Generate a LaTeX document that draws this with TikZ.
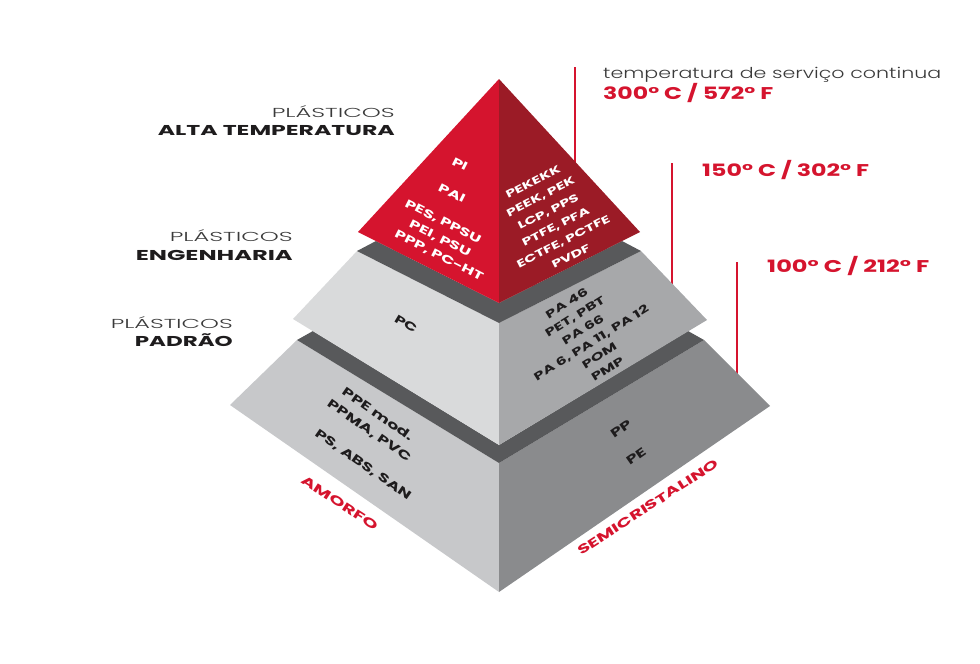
\documentclass[tikz,border=0pt]{standalone}
\usepackage{fontspec}
\usepackage{graphicx}
\setmainfont{Poppins}
\newfontfamily\eu[FakeStretch=1.5]{Poppins}
\newfontfamily\eul[FakeStretch=1.4]{Poppins Light}
\definecolor{pred}{HTML}{D5142E}
\definecolor{predd}{HTML}{9B1B26}
\definecolor{band}{HTML}{58595B}
\definecolor{gA}{HTML}{D9DADB}
\definecolor{gB}{HTML}{A7A8AA}
\definecolor{gC}{HTML}{C7C8CA}
\definecolor{gD}{HTML}{8A8B8D}
\definecolor{txtdark}{HTML}{1E1C1D}
\definecolor{txtlight}{HTML}{3A3A3A}
\newsavebox\fitbox
\newcommand\fitx[2]{\sbox\fitbox{#2}\pgfmathsetmacro\fxs{#1/\the\wd\fitbox}\scalebox{\fxs}[1]{\usebox\fitbox}}
\tikzset{
  lbl/.style={font=\eu\bfseries\fontsize{11.5}{13}\selectfont, inner sep=0pt, anchor=center},
  wl/.style={lbl, text=white},
  dl/.style={lbl, text=txtdark},
  rl/.style={lbl, text=pred, font=\eu\bfseries\fontsize{12.5}{14}\selectfont},
  ttlight/.style={inner sep=0pt, text=txtlight, font=\eul\fontsize{13}{15}\selectfont},
  ttbold/.style={inner sep=0pt, text=txtdark, font=\eu\bfseries\fontsize{14.3}{16}\selectfont},
  tempred/.style={inner sep=0pt, text=pred, font=\eu\bfseries\fontsize{17}{19}\selectfont, anchor=base west},
  templine/.style={draw=pred, line width=1.2pt},
}
\begin{document}
\begin{tikzpicture}[x=1pt, y=-1pt]
\useasboundingbox (0,0) rectangle (980,664);
% coordinates
\coordinate (apex) at (499,79);
\coordinate (rL) at (358,232);
\coordinate (rF) at (499,303);
\coordinate (rR) at (640,232);
\coordinate (t2L) at (357,251);
\coordinate (t2F) at (499,323);
\coordinate (t2R) at (641,251);
\coordinate (t2LL) at (293,319);
\coordinate (t2B) at (499,445);
\coordinate (t2RR) at (707,320);
\coordinate (t3L) at (297,340);
\coordinate (t3F) at (499,463);
\coordinate (t3R) at (704,340);
\coordinate (t3LL) at (230,405);
\coordinate (t3B) at (499,592);
\coordinate (t3RR) at (770,406);
% temperature lines
\coordinate (v1a) at (575,67);  \coordinate (v1b) at (575,166);
\coordinate (v2a) at (672,163); \coordinate (v2b) at (672,290);
\coordinate (v3a) at (737,262); \coordinate (v3b) at (737,378);
\draw[templine] (v1a) -- (v1b);
\draw[templine] (v2a) -- (v2b);
\draw[templine] (v3a) -- (v3b);
% tier 3
\fill[gC] (t3L) -- (t3LL) -- (t3B) -- (t3F) -- cycle;
\fill[gD] (t3F) -- (t3B) -- (t3RR) -- (t3R) -- cycle;
\fill[band] (t3L) -- (313,331) -- (t2B) -- (688,331) -- (t3R) -- (t3F) -- cycle;
% tier 2
\fill[gA] (t2L) -- (t2LL) -- (t2B) -- (t2F) -- cycle;
\fill[gB] (t2F) -- (t2B) -- (t2RR) -- (t2R) -- cycle;
\fill[band] (t2L) -- (376,241) -- (rF) -- (622,241) -- (t2R) -- (t2F) -- cycle;
% top
\fill[pred] (apex) -- (rL) -- (rF) -- cycle;
\fill[predd] (apex) -- (rF) -- (rR) -- cycle;
% titles
\node[ttlight, anchor=base east] (p1) at (395,117.3) {\fitx{123}{PLÁSTICOS}};
\node[ttbold, anchor=base east] (a1) at (395,135) {\fitx{237}{ALTA TEMPERATURA}};
\node[ttlight, anchor=base east] (p2) at (293,241.7) {\fitx{123}{PLÁSTICOS}};
\node[ttbold, anchor=base east] (e2) at (293,260) {\fitx{157}{ENGENHARIA}};
\node[ttlight, anchor=base east] (p3) at (233,328.3) {\fitx{122}{PLÁSTICOS}};
\node[ttbold, anchor=base east] (d3) at (233,346.7) {\fitx{98}{PADRÃO}};
% temperatures
\node[inner sep=0pt, text=txtlight, font=\eul\fontsize{15}{17}\selectfont, anchor=base west] (tt) at (603,78.3) {\fitx{338}{temperatura de serviço continua}};
\node[tempred] (t300) at (603,99.3) {\fitx{170}{300° C / 572° F}};
\node[tempred] (t150) at (702,176) {\fitx{167}{150° C / 302° F}};
\node[tempred] (t100) at (767,272.7) {\fitx{162}{100° C / 212° F}};
% red left face
\node[wl, rotate=-27] (pi) at (460,164) {PI};
\node[wl, rotate=-27] (pai) at (452,193) {PAI};
\node[wl, rotate=-27] (pes) at (443,222) {PES, PPSU};
\node[wl, rotate=-27] (pei) at (440,239) {PEI, PSU};
\node[wl, rotate=-27] (ppp) at (439,256) {PPP, PC-HT};
% red right face
\node[wl, rotate=27, align=center, font=\eu\bfseries\fontsize{10.5}{16.7}\selectfont] (redright) at (552,219)
  {PEKEKK\\PEEK, PEK\\LCP, PPS\\PTFE, PFA\\ECTFE, PCTFE\\PVDF};
% tier 2
\node[dl, rotate=-31] (pc) at (406,324) {PC};
\node[dl, rotate=32, align=center, font=\eu\bfseries\fontsize{11}{15.4}\selectfont] (tier2right) at (587,336)
  {PA 46\\PET, PBT\\PA 66\\PA 6, PA 11, PA 12\\POM\\PMP};
% tier 3
\node[dl, rotate=-35, font=\eu\bfseries\fontsize{12}{14}\selectfont] (ppe) at (378,414) {PPE mod.};
\node[dl, rotate=-35, font=\eu\bfseries\fontsize{12}{14}\selectfont] (ppma) at (369,431) {PPMA, PVC};
\node[dl, rotate=-35, font=\eu\bfseries\fontsize{12}{14}\selectfont] (ps) at (363,465) {PS, ABS, SAN};
\node[dl, rotate=35, font=\eu\bfseries\fontsize{12}{14}\selectfont] (pp) at (621,429) {PP};
\node[dl, rotate=35, font=\eu\bfseries\fontsize{12}{14}\selectfont] (pe) at (636,456) {PE};
% bottom labels
\node[rl, rotate=-33] (amorfo) at (340,503) {\fitx{89}{AMORFO}};
\node[rl, rotate=33] (semi) at (648,507) {\fitx{165}{SEMICRISTALINO}};
\end{tikzpicture}
\end{document}
